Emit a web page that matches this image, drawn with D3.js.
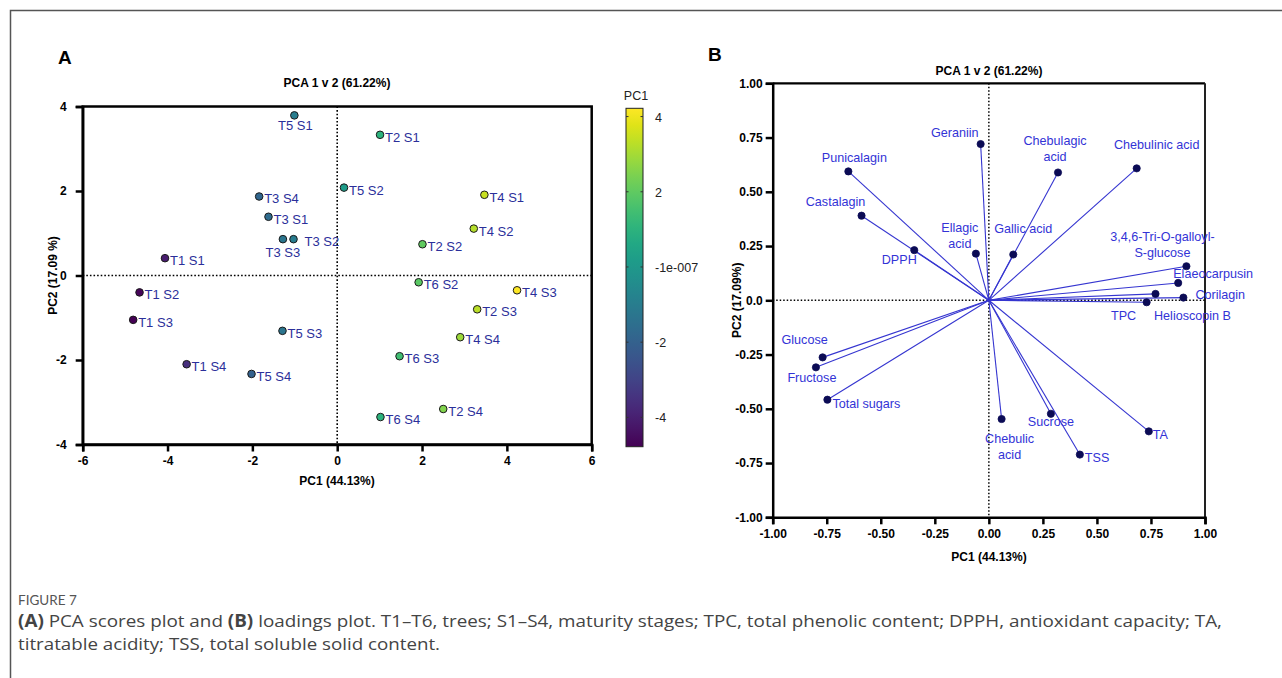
<!DOCTYPE html>
<html>
<head>
<meta charset="utf-8">
<script src="https://cdnjs.cloudflare.com/ajax/libs/d3/7.8.5/d3.min.js"></script>
<style>
  body { margin: 0; background: #fff; }
  svg { display: block; font-family: "Liberation Sans", Arial, sans-serif; }
</style>
</head>
<body>
<div id="chart"></div>
<script>
// ---- panel A: scores ----
const samples = ['T5 S1','T2 S1','T5 S2','T4 S1','T4 S2','T2 S2','T6 S2','T4 S3','T2 S3','T4 S4','T6 S3','T2 S4','T6 S4',
                 'T3 S4','T3 S1','T3 S3','T3 S2','T1 S1','T1 S2','T1 S3','T1 S4','T5 S3','T5 S4'];
const pc1Scores = [-1.01, 1.01, 0.16, 3.47, 3.22, 2.01, 1.92, 4.24, 3.30, 2.90, 1.47, 2.50, 1.02,
                   -1.84, -1.62, -1.28, -1.03, -4.06, -4.66, -4.81, -3.55, -1.29, -2.02];
const pc2Scores = [3.79, 3.33, 2.08, 1.91, 1.11, 0.74, -0.16, -0.35, -0.80, -1.46, -1.91, -3.16, -3.35,
                   1.87, 1.39, 0.86, 0.86, 0.41, -0.40, -1.05, -2.10, -1.31, -2.33];
const scoreTicks = [-6, -4, -2, 0, 2, 4, 6];
const scoreYTicks = [-4, -2, 0, 2, 4];
const colorTicks = [-4, -2, 0, 2, 4];
const colorTickLabels = ['-4', '-2', '-1e-007', '2', '4'];

// ---- panel B: loadings ----
const variables = ['Geraniin','Punicalagin','Castalagin','DPPH','Ellagic acid','Gallic acid','Chebulagic acid','Chebulinic  acid',
                   '3,4,6-Tri-O-galloyl-S-glucose','Elaeocarpusin','Corilagin','Helioscopin B','TPC',
                   'Glucose','Fructose','Total sugars','Chebulic acid','Sucrose','TSS','TA'];
const pc1Loadings = [-0.038, -0.65, -0.589, -0.345, -0.06, 0.113, 0.32, 0.684,
                     0.914, 0.876, 0.90, 0.771, 0.73,
                     -0.769, -0.80, -0.747, 0.059, 0.287, 0.421, 0.74];
const pc2Loadings = [0.72, 0.594, 0.39, 0.231, 0.215, 0.211, 0.589, 0.608,
                     0.157, 0.080, 0.0125, 0.0295, -0.009,
                     -0.263, -0.309, -0.458, -0.547, -0.523, -0.711, -0.604];
const loadTicks = [-1, -0.75, -0.5, -0.25, 0, 0.25, 0.5, 0.75, 1];
const loadXTickLabels = ['-1.00','-0.75','-0.50','-0.25','0.00','0.25','0.50','0.75','1.00'];
const loadYTickLabels = ['-1.00','-0.75','-0.50','-0.25','0.0','0.25','0.50','0.75','1.00'];

// label placement (offsets from the point, in px)
const scoreLabelPos = {
  'T5 S1': {dx: 1, dy: 15, anchor: 'middle'},
  'T3 S3': {dx: 0, dy: 18, anchor: 'middle'},
  'T3 S2': {dx: 11, dy: 7}
};
const loadLabelPos = {
  'Geraniin': {dx: -2, dy: [-7], anchor: 'end'},
  'Punicalagin': {dx: 6, dy: [-9]},
  'Castalagin': {dx: -26, dy: [-10]},
  'DPPH': {dx: -15, dy: [14]},
  'Ellagic acid': {dx: -16, dy: [-22, -6], lines: ['Ellagic', 'acid']},
  'Gallic acid': {dx: 10, dy: [-22]},
  'Chebulagic acid': {dx: -3, dy: [-27, -11], lines: ['Chebulagic', 'acid']},
  'Chebulinic  acid': {dx: 20, dy: [-19]},
  '3,4,6-Tri-O-galloyl-S-glucose': {dx: -24, dy: [-25, -9], lines: ['3,4,6-Tri-O-galloyl-', 'S-glucose']},
  'Elaeocarpusin': {dx: -5, dy: [-5], anchor: 'start'},
  'Corilagin': {dx: 12, dy: [1], anchor: 'start'},
  'Helioscopin B': {dx: 37, dy: [26]},
  'TPC': {dx: -23, dy: [18]},
  'Glucose': {dx: -18, dy: [-13]},
  'Fructose': {dx: -4, dy: [15]},
  'Total sugars': {dx: 5, dy: [8], anchor: 'start'},
  'Chebulic acid': {dx: 8, dy: [24, 40], lines: ['Chebulic', 'acid']},
  'Sucrose': {dx: 0, dy: [12]},
  'TSS': {dx: 5, dy: [7], anchor: 'start'},
  'TA': {dx: 4, dy: [8], anchor: 'start'}
};

const W = 1282, H = 678;
const svg = d3.select('#chart').append('svg').attr('width', W).attr('height', H);
svg.append('rect').attr('width', W).attr('height', H).attr('fill', '#fff');

// figure frame
svg.append('path').attr('d', `M10.5,${H} V10.5 H${W}`).attr('fill', 'none').attr('stroke', '#555').attr('stroke-width', 1.5);

const fmt = d => String(d).replace('\u2212', '-');

function styleAxis(g, w) {
  g.select('.domain').attr('stroke', '#000').attr('stroke-width', w);
  g.selectAll('.tick line').attr('stroke', '#000').attr('stroke-width', w);
  g.selectAll('.tick text').attr('font-weight', 'bold').attr('font-size', '12px').attr('fill', '#000')
    .attr('font-family', '"Liberation Sans", Arial, sans-serif');
}

// ================= Panel A =================
const xA = d3.scaleLinear().domain([-6, 6]).range([82.7, 591.7]);
const yA = d3.scaleLinear().domain([-4, 4]).range([444.5, 106.5]);
const color = d3.scaleSequential(d3.interpolateViridis).domain([-4.78, 4.22]);

svg.append('text').attr('x', 58).attr('y', 64).attr('font-size', '19px').attr('font-weight', 'bold').text('A');
svg.append('text').attr('x', 337).attr('y', 87).attr('text-anchor', 'middle').attr('font-size', '12px')
  .attr('font-weight', 'bold').text('PCA 1 v 2 (61.22%)');

// frame
svg.append('rect').attr('x', xA(-6)).attr('y', yA(4)).attr('width', xA(6) - xA(-6)).attr('height', yA(-4) - yA(4))
  .attr('fill', 'none').attr('stroke', '#000').attr('stroke-width', 2.5);

// zero lines
svg.append('line').attr('x1', xA(-6)).attr('x2', xA(6)).attr('y1', yA(0)).attr('y2', yA(0))
  .attr('stroke', '#000').attr('stroke-width', 1.6).attr('stroke-dasharray', '1.6,2');
svg.append('line').attr('x1', xA(0)).attr('x2', xA(0)).attr('y1', yA(4)).attr('y2', yA(-4))
  .attr('stroke', '#000').attr('stroke-width', 1.6).attr('stroke-dasharray', '1.6,2');

svg.append('g').attr('transform', `translate(0,${yA(-4)})`)
  .call(d3.axisBottom(xA).tickValues(scoreTicks).tickFormat(fmt).tickSizeOuter(0).tickSize(7).tickPadding(5))
  .call(g => styleAxis(g, 2.5));
svg.append('g').attr('transform', `translate(${xA(-6)},0)`)
  .call(d3.axisLeft(yA).tickValues(scoreYTicks).tickFormat(fmt).tickSizeOuter(0).tickSize(7).tickPadding(9))
  .call(g => styleAxis(g, 2.5));

svg.append('text').attr('x', 337).attr('y', 485).attr('text-anchor', 'middle').attr('font-size', '12px')
  .attr('font-weight', 'bold').text('PC1 (44.13%)');
svg.append('text').attr('transform', `translate(57,${yA(0)}) rotate(-90)`).attr('text-anchor', 'middle')
  .attr('font-size', '12px').attr('font-weight', 'bold').text('PC2 (17.09 %)');

const scores = samples.map((s, i) => ({name: s, x: pc1Scores[i], y: pc2Scores[i]}));
svg.append('g').selectAll('circle').data(scores).join('circle')
  .attr('cx', d => xA(d.x)).attr('cy', d => yA(d.y)).attr('r', 3.8)
  .attr('fill', d => color(d.x)).attr('stroke', '#1a1a1a').attr('stroke-width', 1);
svg.append('g').selectAll('text').data(scores).join('text')
  .attr('x', d => xA(d.x) + (scoreLabelPos[d.name] ? scoreLabelPos[d.name].dx : 5))
  .attr('y', d => yA(d.y) + (scoreLabelPos[d.name] ? scoreLabelPos[d.name].dy : 7))
  .attr('text-anchor', d => (scoreLabelPos[d.name] && scoreLabelPos[d.name].anchor) || 'start')
  .attr('font-size', '13px').attr('fill', '#2b2f9a').text(d => d.name);

// colorbar
const cbY = d3.scaleLinear().domain([-4.78, 4.22]).range([446.7, 108.3]);
const grad = svg.append('defs').append('linearGradient').attr('id', 'vir')
  .attr('x1', 0).attr('y1', 1).attr('x2', 0).attr('y2', 0);
d3.range(0, 1.0001, 0.05).forEach(t => {
  grad.append('stop').attr('offset', t).attr('stop-color', d3.interpolateViridis(t));
});
svg.append('rect').attr('x', 626).attr('y', cbY(4.22)).attr('width', 17).attr('height', cbY(-4.78) - cbY(4.22))
  .attr('fill', 'url(#vir)').attr('stroke', '#222').attr('stroke-width', 1);
const cbT = svg.append('g');
colorTicks.forEach((t, i) => {
  cbT.append('line').attr('x1', 626).attr('x2', 628.5).attr('y1', cbY(t)).attr('y2', cbY(t)).attr('stroke', '#333');
  cbT.append('line').attr('x1', 640.5).attr('x2', 643).attr('y1', cbY(t)).attr('y2', cbY(t)).attr('stroke', '#333');
  cbT.append('text').attr('x', 655).attr('y', cbY(t) + 5).attr('font-size', '12.5px').attr('fill', '#222')
    .text(colorTickLabels[i]);
});
svg.append('text').attr('x', 636).attr('y', 100).attr('text-anchor', 'middle').attr('font-size', '12.5px')
  .attr('fill', '#222').text('PC1');

// ================= Panel B =================
const xB = d3.scaleLinear().domain([-1, 1]).range([772.7, 1205]);
const yB = d3.scaleLinear().domain([-1, 1]).range([517.3, 83.3]);

svg.append('text').attr('x', 708).attr('y', 61).attr('font-size', '19px').attr('font-weight', 'bold').text('B');
svg.append('text').attr('x', 989).attr('y', 75).attr('text-anchor', 'middle').attr('font-size', '12px')
  .attr('font-weight', 'bold').text('PCA 1 v 2 (61.22%)');

svg.append('line').attr('x1', xB(-1)).attr('x2', xB(1)).attr('y1', yB(1)).attr('y2', yB(1))
  .attr('stroke', '#000').attr('stroke-width', 2.2);
svg.append('line').attr('x1', xB(1)).attr('x2', xB(1)).attr('y1', yB(1)).attr('y2', yB(-1))
  .attr('stroke', '#222').attr('stroke-width', 2);

svg.append('line').attr('x1', xB(-1)).attr('x2', xB(1)).attr('y1', yB(0)).attr('y2', yB(0))
  .attr('stroke', '#000').attr('stroke-width', 1.5).attr('stroke-dasharray', '1.5,2');
svg.append('line').attr('x1', xB(0)).attr('x2', xB(0)).attr('y1', yB(1)).attr('y2', yB(-1))
  .attr('stroke', '#000').attr('stroke-width', 1.5).attr('stroke-dasharray', '1.5,2');

svg.append('g').attr('transform', `translate(0,${yB(-1)})`)
  .call(d3.axisBottom(xB).tickValues(loadTicks).tickFormat((d, i) => loadXTickLabels[i]).tickSizeOuter(0).tickSize(7).tickPadding(5))
  .call(g => styleAxis(g, 2.5));
svg.append('g').attr('transform', `translate(${xB(-1)},0)`)
  .call(d3.axisLeft(yB).tickValues(loadTicks).tickFormat((d, i) => loadYTickLabels[i]).tickSizeOuter(0).tickSize(7).tickPadding(3))
  .call(g => styleAxis(g, 2.5));

svg.append('text').attr('x', 989).attr('y', 561).attr('text-anchor', 'middle').attr('font-size', '12px')
  .attr('font-weight', 'bold').text('PC1 (44.13%)');
svg.append('text').attr('transform', `translate(741,${yB(0)}) rotate(-90)`).attr('text-anchor', 'middle')
  .attr('font-size', '12px').attr('font-weight', 'bold').text('PC2 (17.09%)');

const loads = variables.map((v, i) => ({name: v, x: pc1Loadings[i], y: pc2Loadings[i]}));
svg.append('g').selectAll('line').data(loads).join('line')
  .attr('x1', xB(0)).attr('y1', yB(0)).attr('x2', d => xB(d.x)).attr('y2', d => yB(d.y))
  .attr('stroke', '#3535d0').attr('stroke-width', 1.1);
svg.append('g').selectAll('circle').data(loads).join('circle')
  .attr('cx', d => xB(d.x)).attr('cy', d => yB(d.y)).attr('r', 3.6)
  .attr('fill', '#0b0b55').attr('stroke', '#0b0b55').attr('stroke-width', 0.8);

const lbl = svg.append('g').attr('font-size', '12.6px').attr('fill', '#3333d6');
loads.forEach(d => {
  const p = loadLabelPos[d.name];
  const lines = p.lines || [d.name];
  lines.forEach((ln, j) => {
    lbl.append('text').attr('x', xB(d.x) + p.dx).attr('y', yB(d.y) + p.dy[j])
      .attr('text-anchor', p.anchor || 'middle').text(ln);
  });
});

// ================= caption =================
svg.append('text').attr('x', 18).attr('y', 605).attr('font-family', 'Lato, "Open Sans", sans-serif')
  .attr('font-size', '13.5px').attr('fill', '#555').text('FIGURE 7');
const cap1 = svg.append('text').attr('x', 18).attr('y', 627).attr('font-family', '"Open Sans", Lato, sans-serif')
  .attr('font-size', '17px').attr('fill', '#444')
  .attr('textLength', 1204).attr('lengthAdjust', 'spacingAndGlyphs');
cap1.append('tspan').attr('font-weight', 'bold').text('(A)');
cap1.append('tspan').text(' PCA scores plot and ');
cap1.append('tspan').attr('font-weight', 'bold').text('(B)');
cap1.append('tspan').text(' loadings plot. T1\u2013T6, trees; S1\u2013S4, maturity stages; TPC, total phenolic content; DPPH, antioxidant capacity; TA,');
svg.append('text').attr('x', 18).attr('y', 650).attr('font-family', '"Open Sans", Lato, sans-serif')
  .attr('font-size', '17px').attr('fill', '#444')
  .attr('textLength', 422).attr('lengthAdjust', 'spacingAndGlyphs')
  .text('titratable acidity; TSS, total soluble solid content.');
</script>
</body>
</html>
